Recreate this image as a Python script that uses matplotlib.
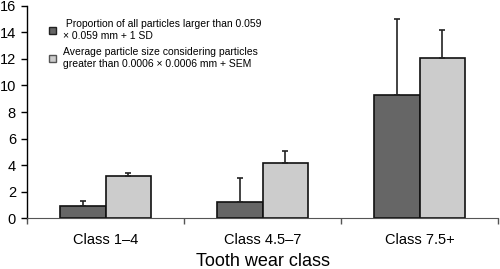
import matplotlib.pyplot as plt
import numpy as np
from matplotlib.patches import Patch

plt.rcParams['font.family'] = ['Liberation Sans', 'DejaVu Sans']

categories = ['Class 1\u20134', 'Class 4.5\u20137', 'Class 7.5+']
proportion = [0.95, 1.2, 9.3]
proportion_sd = [0.35, 1.85, 5.7]
avg_size = [3.2, 4.2, 12.1]
avg_sem = [0.22, 0.85, 2.1]

labels = [' Proportion of all particles larger than 0.059\n\u00d7 0.059 mm + 1 SD',
          'Average particle size considering particles\ngreater than 0.0006 \u00d7 0.0006 mm + SEM']

fig = plt.figure(figsize=(5, 2.69), dpi=100)
ax = fig.add_axes([0.054, 0.1885, 0.942, 0.79])

x = np.arange(len(categories))
w = 0.29
err_kw = dict(ecolor='#222222', elinewidth=1.2, capsize=2.2, capthick=1.2)
ax.bar(x - w / 2, proportion, w, color='#666666', edgecolor='#111111', linewidth=1.2,
       yerr=[np.zeros(3), proportion_sd], error_kw=err_kw)
ax.bar(x + w / 2, avg_size, w, color='#cccccc', edgecolor='#111111', linewidth=1.2,
       yerr=[np.zeros(3), avg_sem], error_kw=err_kw)

ax.set_xlim(-0.5, 2.5)
ax.set_ylim(0, 16)
ax.set_yticks(range(0, 17, 2))
ax.tick_params(axis='y', labelsize=10.5, length=4, width=1, direction='out', pad=4)

# category labels between boundary ticks
ax.set_xticks([-0.5, 0.5, 1.5, 2.5])
ax.set_xticklabels([])
ax.tick_params(axis='x', length=4, width=1, color='#555555')
for xi, c in zip(x, categories):
    ax.text(xi, -1.1, c, ha='center', va='top', fontsize=10.5)
ax.text(1, -2.65, 'Tooth wear class', ha='center', va='top', fontsize=13)

ax.spines['top'].set_visible(False)
ax.spines['right'].set_visible(False)
ax.spines['bottom'].set_color('#555555')
ax.spines['left'].set_linewidth(1)

handles = [Patch(facecolor='#666666', edgecolor='#222222'),
           Patch(facecolor='#cccccc', edgecolor='#555555')]
ax.legend(handles, labels, loc='upper left', bbox_to_anchor=(0.027, 0.98),
          frameon=False, fontsize=7.5, handlelength=0.7, handleheight=0.7,
          handletextpad=0.6, labelspacing=0.6)

plt.savefig('out.png', dpi=100)
